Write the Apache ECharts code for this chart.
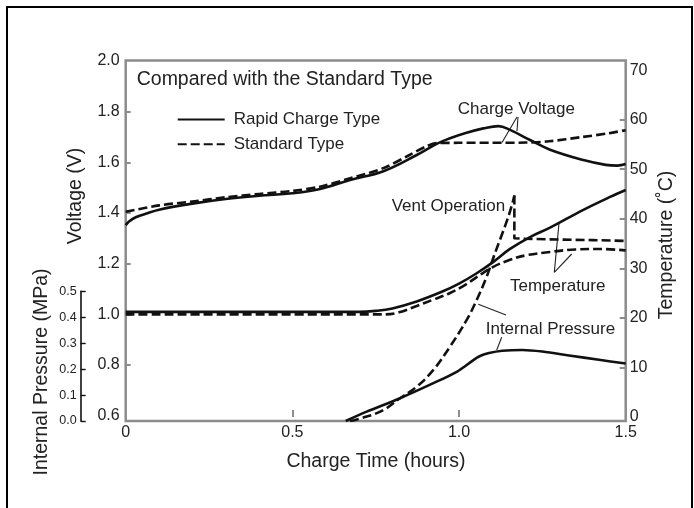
<!DOCTYPE html>
<html>
<head>
<meta charset="utf-8">
<script src="https://cdn.jsdelivr.net/npm/echarts@6/dist/echarts.min.js"></script>
<style>
html,body{margin:0;padding:0;background:#fff;}
#chart{width:694px;height:508px;}
</style>
</head>
<body>
<div id="chart"></div>
<script>
// ---- data ----
// [charge time (hours), value]
const voltageRapid = [[0,1.352],[0.01,1.366],[0.03,1.383],[0.06,1.397],[0.1,1.413],[0.2,1.437],[0.3,1.455],[0.4,1.468],[0.5,1.478],[0.58,1.494],[0.673,1.530],[0.773,1.565],[0.873,1.629],[0.933,1.673],[0.973,1.695],[1.02,1.716],[1.073,1.734],[1.118,1.743],[1.153,1.728],[1.213,1.688],[1.273,1.650],[1.373,1.609],[1.44,1.590],[1.475,1.587],[1.5,1.593]];
const voltageStandard = [[0,1.405],[0.1,1.430],[0.2,1.445],[0.3,1.462],[0.4,1.475],[0.5,1.487],[0.58,1.503],[0.673,1.537],[0.773,1.577],[0.85,1.628],[0.9,1.662],[0.935,1.676],[1.0,1.677],[1.1,1.677],[1.2,1.678],[1.27,1.683],[1.37,1.700],[1.45,1.715],[1.5,1.727]];
const tempRapid = [[0,21.2],[0.7,21.2],[0.75,21.4],[0.8,21.9],[0.873,23.3],[0.95,25.3],[1.0,26.9],[1.053,29.0],[1.103,31.3],[1.153,33.9],[1.213,36.3],[1.273,38.2],[1.373,41.8],[1.453,44.4],[1.5,45.8]];
const tempStandard = [[0,20.7],[0.78,20.7],[0.82,21.1],[0.873,22.4],[0.92,23.6],[0.973,25.0],[1.02,26.7],[1.053,28.2],[1.1,30.2],[1.153,31.7],[1.2,32.6],[1.273,33.3],[1.35,33.8],[1.42,33.9],[1.5,33.6]];
const pressureRapid = [[0.66,0.0],[0.723,0.036],[0.823,0.088],[0.923,0.146],[0.993,0.19],[1.04,0.232],[1.06,0.249],[1.09,0.262],[1.13,0.271],[1.19,0.274],[1.25,0.268],[1.33,0.253],[1.42,0.236],[1.5,0.222]];
// standard type: rise up to the vent operation, then the level after venting
const pressureStandardRise = [[0.673,0.0],[0.723,0.017],[0.773,0.042],[0.823,0.088],[0.873,0.132],[0.923,0.197],[0.973,0.287],[1.023,0.39],[1.053,0.467],[1.083,0.557],[1.103,0.63],[1.123,0.70],[1.143,0.77],[1.158,0.83],[1.166,0.87]];
const pressureStandardVent = [[1.166,0.87],[1.166,0.705],[1.2,0.703],[1.3,0.700],[1.4,0.698],[1.5,0.695]];

const seriesNames = ['Rapid Charge Type', 'Standard Type'];
const timeTicks = [0, 0.5, 1.0, 1.5];
const voltageTicks = [0.6, 0.8, 1.0, 1.2, 1.4, 1.6, 1.8, 2.0];
const tempTicks = [0, 10, 20, 30, 40, 50, 60, 70];
const pressureTicks = [0, 0.1, 0.2, 0.3, 0.4, 0.5];

// ---- styling ----
const FONT = '"Liberation Sans", Arial, Helvetica, sans-serif';
const TXT = '#222';
const FRAME = '#8c8c8c';
const INK = '#111';
const DASH = [9, 4];

const chart = echarts.init(document.getElementById('chart'), null, {renderer: 'canvas'});

function lineSeries(name, data, yIdx, dashed, smooth) {
  return {
    name: name, type: 'line', data: data,
    xAxisIndex: 0, yAxisIndex: yIdx,
    symbol: 'none', smooth: smooth,
    silent: true, animation: false,
    lineStyle: {color: INK, width: 2.6, type: dashed ? DASH : 'solid', cap: 'butt', join: 'round'},
    itemStyle: {color: INK}
  };
}

function txt(text, x, y, size, opts) {
  opts = opts || {};
  return {
    type: 'text', x: x, y: y, rotation: opts.rot || 0, silent: true,
    style: {
      text: text, font: size + 'px ' + FONT, fill: TXT,
      textAlign: opts.align || 'left', textVerticalAlign: 'middle',
      align: opts.align || 'left', verticalAlign: 'middle'
    }
  };
}
function seg(x1, y1, x2, y2) {
  return {type: 'line', silent: true, shape: {x1: x1, y1: y1, x2: x2, y2: y2}, style: {stroke: '#222', lineWidth: 1.1}};
}

const option = {
  backgroundColor: '#fff',
  animation: false,
  textStyle: {fontFamily: FONT},
  grid: [
    {left: 125.7, right: 68.3, top: 60.5, bottom: 87, show: true, borderColor: FRAME, borderWidth: 2.5, backgroundColor: 'transparent'},
    {left: 80.7, width: 30, top: 291.4, bottom: 87, show: false}
  ],
  legend: {
    orient: 'vertical', left: 176.7, top: 111, padding: 0,
    itemWidth: 47, itemHeight: 14, itemGap: 7.7, selectedMode: false,
    data: seriesNames,
    itemStyle: {opacity: 0, color: 'transparent', borderWidth: 0},
    textStyle: {fontSize: 17, color: TXT, fontFamily: FONT, padding: [0, 0, 0, 4]}
  },
  xAxis: [
    {
      gridIndex: 0, type: 'value', min: 0, max: 1.5,
      axisLine: {show: false},
      axisTick: {show: true, inside: true, length: 7, customValues: [0.5, 1.0], lineStyle: {color: FRAME, width: 2}},
      axisLabel: {customValues: timeTicks, fontSize: 16, color: TXT, margin: 4, fontFamily: FONT,
        formatter: v => (v === 0 ? '0' : v.toFixed(1))},
      splitLine: {show: false}
    },
    {gridIndex: 1, type: 'value', min: 0, max: 1, show: false}
  ],
  yAxis: [
    {
      gridIndex: 0, type: 'value', position: 'left', min: 0.5788, max: 2.002,
      axisLine: {show: false},
      axisTick: {show: true, inside: true, length: 5, customValues: [0.8, 1.0, 1.2, 1.4, 1.6, 1.8], lineStyle: {color: FRAME, width: 2}},
      axisLabel: {customValues: voltageTicks, fontSize: 16, color: TXT, margin: 6, fontFamily: FONT,
        formatter: v => v.toFixed(1)},
      splitLine: {show: false}
    },
    {
      gridIndex: 0, type: 'value', position: 'right', min: -0.83, max: 71.94,
      axisLine: {show: false},
      axisTick: {show: true, inside: true, length: 6, customValues: [10, 20, 30, 40, 50, 60], lineStyle: {color: FRAME, width: 2}},
      axisLabel: {customValues: tempTicks, fontSize: 16, color: TXT, margin: 4, fontFamily: FONT,
        formatter: v => String(v)},
      splitLine: {show: false}
    },
    {gridIndex: 0, type: 'value', position: 'left', min: 0, max: 1.391, show: false},
    {
      gridIndex: 1, type: 'value', position: 'left', min: 0, max: 0.5, interval: 0.1,
      axisLine: {show: true, lineStyle: {color: '#111', width: 1.6}},
      axisTick: {show: true, inside: true, length: 5, lineStyle: {color: '#111', width: 1.4}},
      axisLabel: {customValues: pressureTicks, fontSize: 12.5, color: TXT, margin: 4, fontFamily: FONT,
        formatter: v => v.toFixed(1)},
      splitLine: {show: false}
    }
  ],
  series: [
    lineSeries(seriesNames[0], voltageRapid, 0, false, 0.4),
    lineSeries(seriesNames[1], voltageStandard, 0, true, 0.3),
    lineSeries(seriesNames[0], tempRapid, 1, false, 0.4),
    lineSeries(seriesNames[1], tempStandard, 1, true, 0.4),
    lineSeries(seriesNames[0], pressureRapid, 2, false, 0.3),
    lineSeries(seriesNames[1], pressureStandardRise, 2, true, 0.4),
    lineSeries(seriesNames[1], pressureStandardVent, 2, true, false)
  ],
  graphic: [
    {type: 'rect', silent: true, shape: {x: 7, y: 7, width: 685, height: 530}, style: {fill: 'none', stroke: '#000', lineWidth: 2}},
    txt('Compared with the Standard Type', 136.7, 79.5, 19.5),
    txt('Charge Voltage', 457.7, 109, 17),
    seg(517, 117, 502, 142.5), seg(518, 117, 517, 131),
    txt('Vent Operation', 391.7, 206.7, 17),
    txt('Temperature', 510, 286, 17),
    seg(554.3, 272.3, 559, 223.3), seg(554.3, 272.3, 571.7, 254),
    txt('Internal Pressure', 485.7, 329, 17),
    seg(478.3, 304.3, 506, 315), seg(496.7, 350, 501.7, 337.3),
    txt('Charge Time (hours)', 376, 462, 19.5, {align: 'center'}),
    txt('Voltage (V)', 76, 196, 19.5, {align: 'center', rot: Math.PI / 2}),
    txt('Temperature (˚C)', 667, 245, 19.5, {align: 'center', rot: Math.PI / 2}),
    txt('Internal Pressure (MPa)', 42, 372, 19.5, {align: 'center', rot: Math.PI / 2})
  ]
};
chart.setOption(option);
</script>
</body>
</html>
